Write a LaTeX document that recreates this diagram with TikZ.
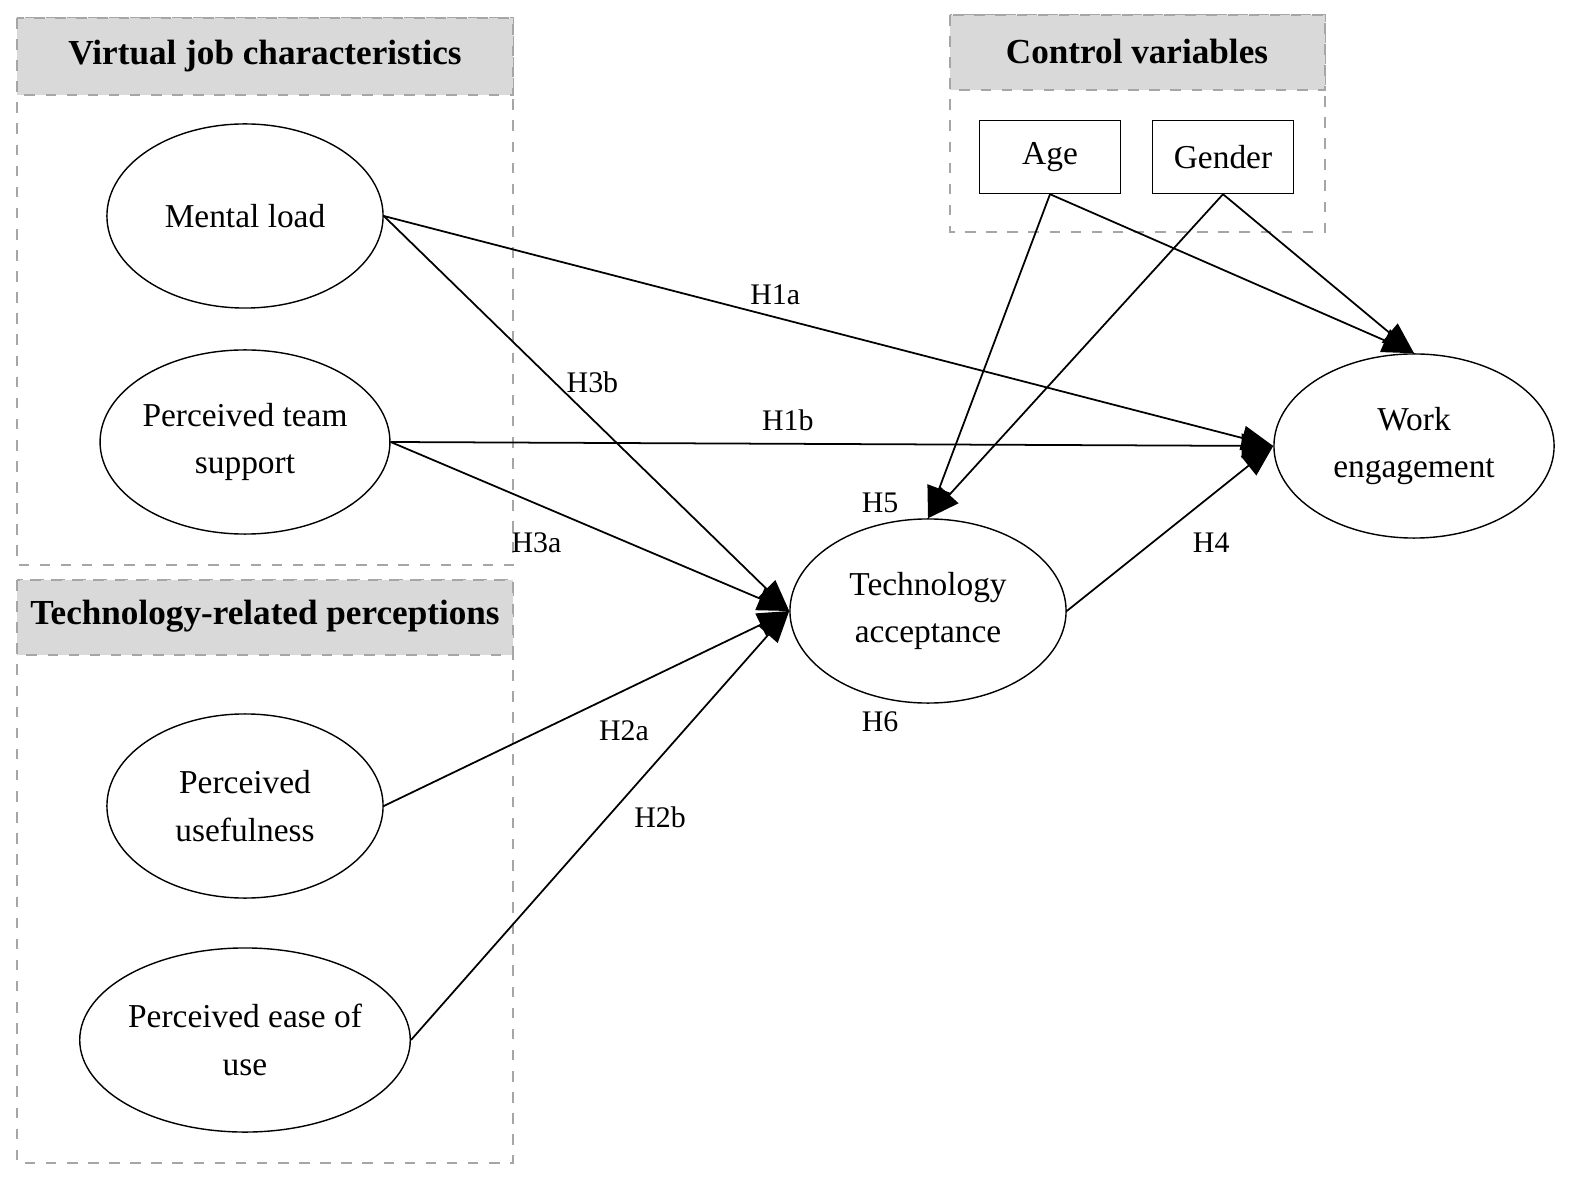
\documentclass[tikz,border=0pt]{standalone}
\usepackage{fontspec}
\setmainfont{Liberation Serif}
\usetikzlibrary{shapes.geometric,arrows.meta}
\begin{document}
\begin{tikzpicture}[x=0.01cm,y=-0.01cm,
  every node/.style={font=\fontsize{9.5}{11.5}\selectfont},
  ell/.style={ellipse,draw,minimum width=276\pgflinewidth*0+2.76cm,minimum height=1.84cm,align=center,inner sep=0pt},
  grp/.style={draw=gray!70,dashed,line width=0.6pt},
  hdr/.style={fill=gray!30,draw=gray!70,dashed,line width=0.6pt},
  htxt/.style={font=\fontsize{10}{12}\selectfont\bfseries},
  box/.style={draw,minimum width=1.41cm,minimum height=0.73cm},
  arr/.style={-{Triangle[length=9pt,width=7pt]},line width=0.5pt},
  lab/.style={font=\fontsize{8.5}{10}\selectfont}]
\useasboundingbox (0,0) rectangle (1571,1183);
% groups
\draw[grp] (17,18) rectangle (513,565);
\draw[hdr] (17,18) rectangle (513,95);
\node[htxt] (h1) at (265,56) {Virtual job characteristics};
\draw[grp] (17,580) rectangle (513,1163);
\draw[hdr] (17,580) rectangle (513,655);
\node[htxt] (h2) at (265,616) {Technology-related perceptions};
\draw[grp] (950,15) rectangle (1325,232);
\draw[hdr] (950,15) rectangle (1325,90);
\node[htxt] (h3) at (1137,51) {Control variables};
% nodes
\node[ell] (ml) at (245,216) {Mental load};
\node[ell] (ts) at (245,442) {Perceived team\\[2pt]support};
\node[ell] (pu) at (245,806) {Perceived\\[2pt]usefulness};
\node[ell] (pe) at (245,1040) {Perceived ease of\\[2pt]use};
\node[ell] (ta) at (928,611) {Technology\\[2pt]acceptance};
\node[ell,minimum width=2.8cm] (we) at (1414,446) {Work\\[2pt]engagement};
\node[box] (age) at (1050,157) {Age};
\node[box] (gen) at (1223,157) {Gender};
% arrows
\draw[arr] (ml.east) -- (we.west) node[lab,pos=0.44,above] {H1a};
\draw[arr] (ts.east) -- (we.west) node[lab,pos=0.45,above] {H1b};
\draw[arr] (ml.east) -- (ta.west) node[lab,pos=0.42,right] {H3b};
\draw[arr] (ts.east) -- (ta.west) node[lab,pos=0.46,below left] {H3a};
\draw[arr] (pu.east) -- (ta.west) node[lab,pos=0.5,below right] {H2a};
\draw[arr] (pe.east) -- (ta.west) node[lab,pos=0.52,right=4pt] {H2b};
\draw[arr] (ta.east) -- (we.west) node[lab,pos=0.55,below right] {H4};
\draw[arr] (age.south) -- (ta.north);
\draw[arr] (gen.south) -- (ta.north);
\draw[arr] (age.south) -- (we.north);
\draw[arr] (gen.south) -- (we.north);
\node[lab] (h5) at (880,503) {H5};
\node[lab] (h6) at (880,722) {H6};
\end{tikzpicture}
\end{document}
